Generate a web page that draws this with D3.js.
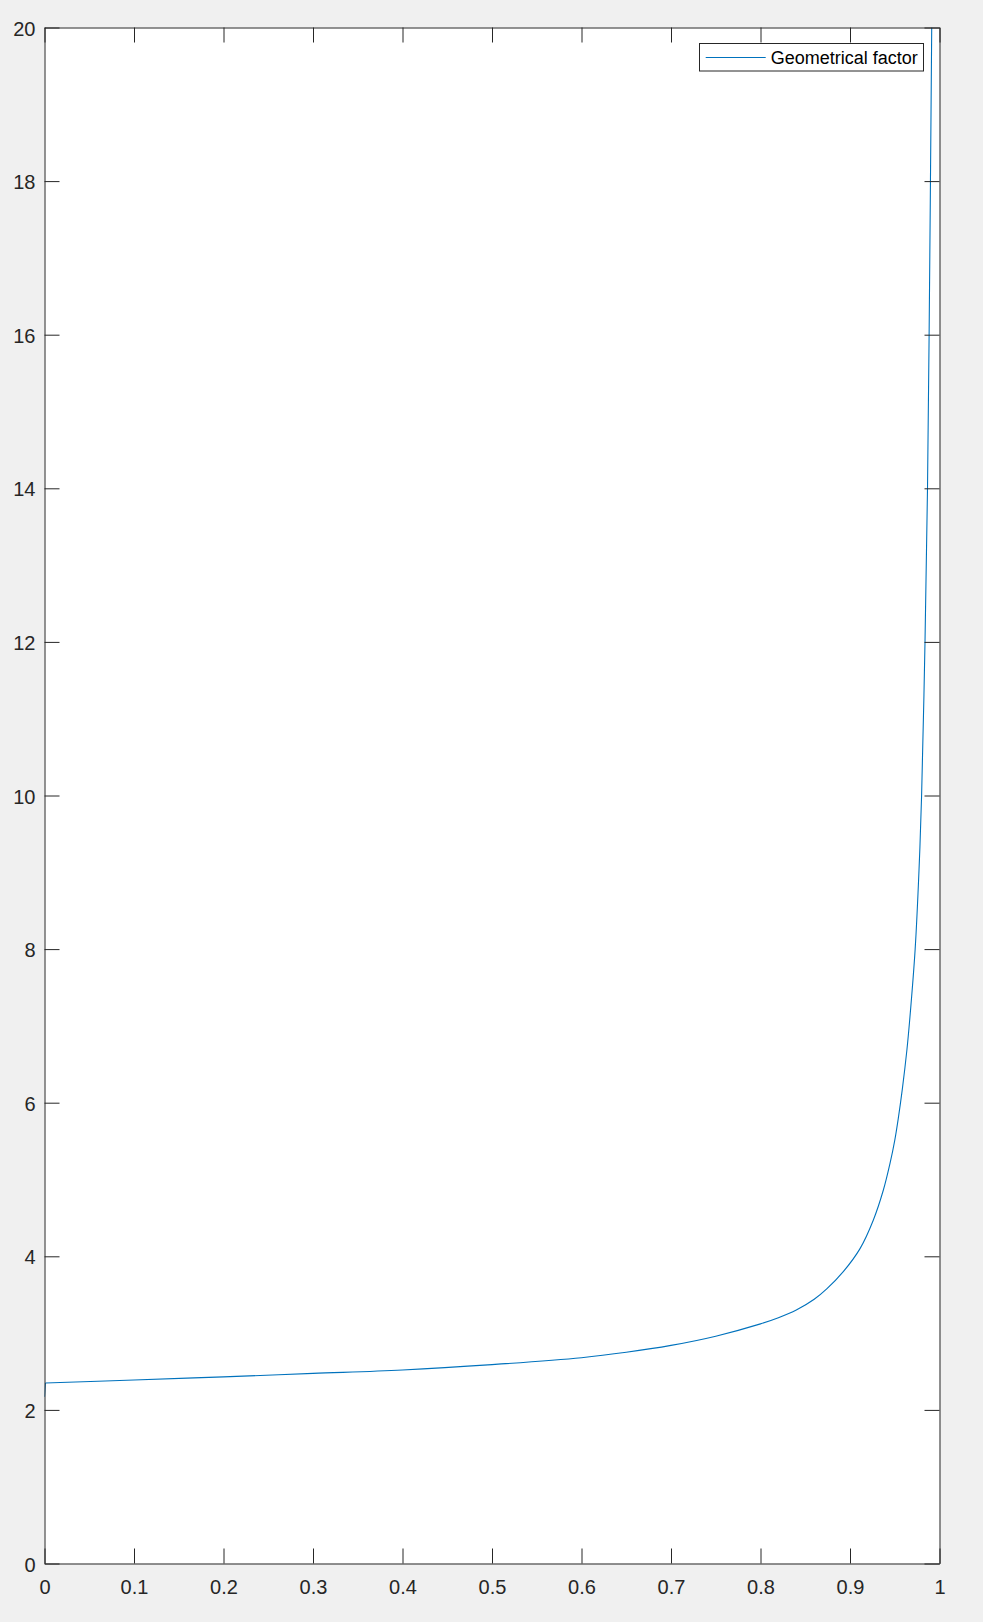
<!DOCTYPE html>
<html>
<head>
<meta charset="utf-8">
<script src="https://cdn.jsdelivr.net/npm/d3@7"></script>
<style>
  html, body { margin: 0; padding: 0; background: #f0f0f0; }
  svg { display: block; }
  text { font-family: "Liberation Sans", Arial, Helvetica, sans-serif; }
</style>
</head>
<body>
<div id="chart"></div>
<script>
// ---- data ----
const seriesName = "Geometrical factor";
const xValues = [0.000, 0.001, 0.100, 0.200, 0.300, 0.400, 0.500, 0.600, 0.650, 0.700,
                 0.750, 0.800, 0.820, 0.840, 0.860, 0.874, 0.8925, 0.9112, 0.926, 0.9372,
                 0.9447, 0.9500, 0.9540, 0.9585, 0.9636, 0.9665, 0.9728, 0.9770, 0.9800, 0.9838,
                 0.9866, 0.9884, 0.9899, 0.9913];
const yValues = [2.17, 2.35, 2.39, 2.43, 2.475, 2.52, 2.59, 2.68, 2.75, 2.84,
                 2.96, 3.12, 3.20, 3.30, 3.44, 3.575, 3.80, 4.10, 4.47, 4.86,
                 5.21, 5.51, 5.80, 6.18, 6.69, 7.05, 8.0, 9.0, 10.0, 12.0,
                 14.0, 16.0, 18.0, 20.0];
const xTickValues = [0, 0.1, 0.2, 0.3, 0.4, 0.5, 0.6, 0.7, 0.8, 0.9, 1];
const xTickLabels = ["0", "0.1", "0.2", "0.3", "0.4", "0.5", "0.6", "0.7", "0.8", "0.9", "1"];
const yTickValues = [0, 2, 4, 6, 8, 10, 12, 14, 16, 18, 20];
const yTickLabels = ["0", "2", "4", "6", "8", "10", "12", "14", "16", "18", "20"];

// ---- layout ----
const W = 983, H = 1622;
const plotL = 44.5, plotT = 27.5, plotR = 939.5, plotB = 1563.5;
const axisColor = "#262626";
const lineColor = "#0072bd";
const tickLen = 15;

const svg = d3.select("#chart").append("svg")
  .attr("width", W).attr("height", H);

svg.append("rect").attr("width", W).attr("height", H).attr("fill", "#f0f0f0");
svg.append("rect")
  .attr("x", plotL).attr("y", plotT)
  .attr("width", plotR - plotL).attr("height", plotB - plotT)
  .attr("fill", "#ffffff");

const x = d3.scaleLinear().domain([0, 1]).range([plotL, plotR]);
const y = d3.scaleLinear().domain([0, 20]).range([plotB, plotT]);

svg.append("clipPath").attr("id", "clip")
  .append("rect").attr("x", plotL).attr("y", plotT)
  .attr("width", plotR - plotL).attr("height", plotB - plotT);

const pts = xValues.map((v, i) => [v, yValues[i]]);
const straight = d3.line().x(d => x(d[0])).y(d => y(d[1]));
const smooth = d3.line().x(d => x(d[0])).y(d => y(d[1])).curve(d3.curveCatmullRom.alpha(0.5));
const lineG = svg.append("g").attr("clip-path", "url(#clip)");
// first sample (vertical step at x = 0) drawn straight, the rest smoothed
lineG.append("path")
  .datum(pts.slice(0, 2))
  .attr("d", straight)
  .attr("fill", "none")
  .attr("stroke", lineColor)
  .attr("stroke-width", 1.1);
lineG.append("path")
  .datum(pts.slice(1))
  .attr("d", smooth)
  .attr("fill", "none")
  .attr("stroke", lineColor)
  .attr("stroke-width", 1.1);

function styleAxis(g) {
  g.attr("color", axisColor);
  g.selectAll("path.domain").attr("stroke-width", 1);
  g.selectAll(".tick line").attr("stroke-width", 1);
  g.selectAll("text")
    .attr("font-size", 20)
    .attr("fill", axisColor)
    .attr("font-family", "\"Liberation Sans\", Arial, Helvetica, sans-serif");
}

// bottom axis
svg.append("g")
  .attr("transform", `translate(0,${plotB})`)
  .call(d3.axisBottom(x).tickValues(xTickValues)
    .tickFormat((d, i) => xTickLabels[i])
    .tickSize(-tickLen).tickSizeOuter(0).tickPadding(16))
  .call(styleAxis);

// top axis (ticks only)
svg.append("g")
  .attr("transform", `translate(0,${plotT})`)
  .call(d3.axisTop(x).tickValues(xTickValues).tickFormat("")
    .tickSize(-tickLen).tickSizeOuter(0))
  .call(styleAxis);

// left axis
const gl = svg.append("g")
  .attr("transform", `translate(${plotL},0)`)
  .call(d3.axisLeft(y).tickValues(yTickValues)
    .tickFormat((d, i) => yTickLabels[i])
    .tickSize(-tickLen).tickSizeOuter(0).tickPadding(9))
  .call(styleAxis);
gl.selectAll("text").attr("dy", null).attr("y", 7.5);

// right axis (ticks only)
svg.append("g")
  .attr("transform", `translate(${plotR},0)`)
  .call(d3.axisRight(y).tickValues(yTickValues).tickFormat("")
    .tickSize(-tickLen).tickSizeOuter(0))
  .call(styleAxis);

// legend
const lg = svg.append("g");
lg.append("rect")
  .attr("x", 699.5).attr("y", 43.5)
  .attr("width", 224).attr("height", 27.5)
  .attr("fill", "#ffffff")
  .attr("stroke", axisColor).attr("stroke-width", 1);
lg.append("line")
  .attr("x1", 705.7).attr("x2", 765.7)
  .attr("y1", 57.5).attr("y2", 57.5)
  .attr("stroke", lineColor).attr("stroke-width", 1.1);
lg.append("text")
  .attr("x", 770.7).attr("y", 64)
  .attr("font-size", 18)
  .attr("fill", "#000000")
  .text(seriesName);
</script>
</body>
</html>
